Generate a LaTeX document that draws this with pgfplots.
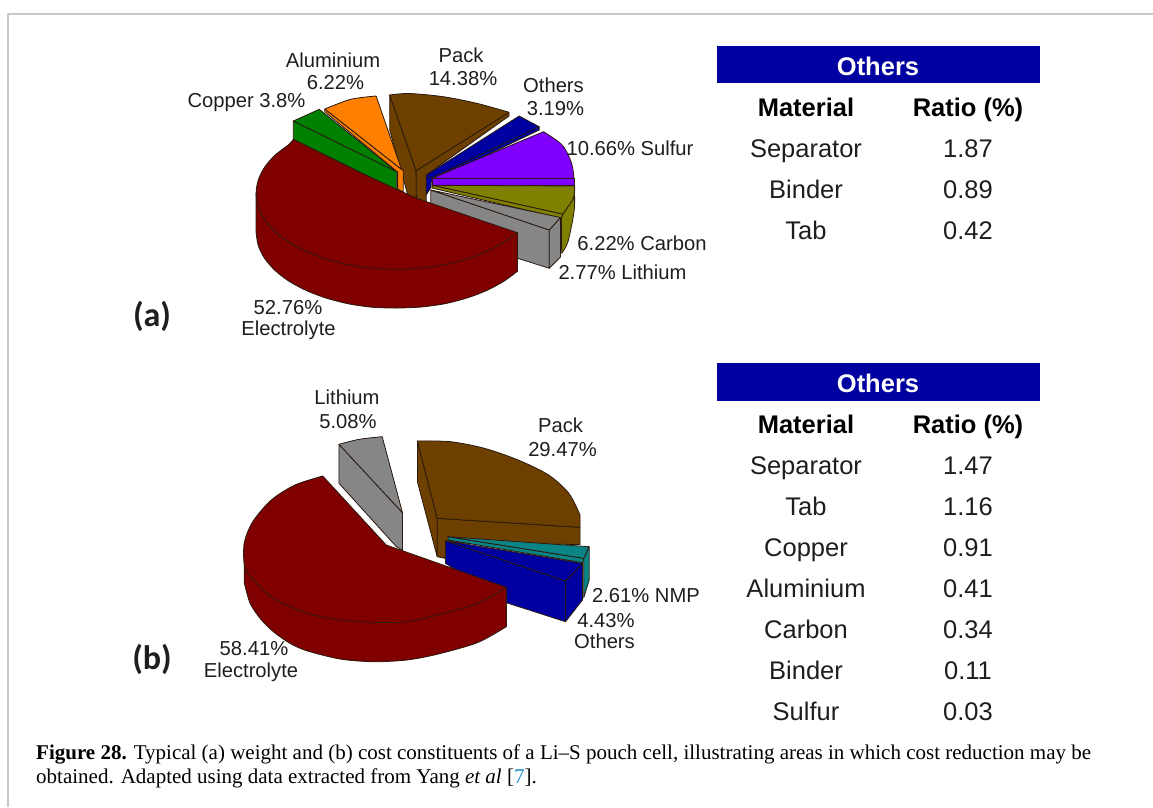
\documentclass[border=0pt]{standalone}
\usepackage{fontspec}
\setmainfont{Liberation Sans}
\newfontfamily\capfont{Liberation Serif}
\newfontfamily\tagfont{Carlito}
\usepackage{pgfplots}
\pgfplotsset{compat=1.18}

\definecolor{elec}{HTML}{800000}
\definecolor{cu}{HTML}{008000}
\definecolor{alu}{HTML}{FF8000}
\definecolor{pack}{HTML}{6E4000}
\definecolor{oth}{HTML}{0000A0}
\definecolor{sul}{HTML}{8000FF}
\definecolor{carb}{HTML}{808000}
\definecolor{lith}{HTML}{868686}
\definecolor{nmp}{HTML}{0A8585}
\definecolor{ink}{HTML}{1E1E1E}
\definecolor{edge}{HTML}{2A1A10}
\definecolor{frame}{HTML}{C8C8C8}

% straight sided piece
\newcommand{\poly}[2]{\addplot[fill=#1, draw=edge, line width=0.8pt, line join=round] coordinates {#2} -- cycle;}
% piece with a curved rim: colour, rim points, straight points back to the start
\newcommand{\rim}[3]{%
  \addplot[fill=#1, draw=none] coordinates {#2 #3} -- cycle;
  \addplot[smooth, fill=#1, draw=edge, line width=0.8pt] coordinates {#2};
  \addplot[draw=edge, line width=0.8pt, line join=round] coordinates {#3};
}
% same with the rim in two parts, for a top face whose straight side bends inwards
\newcommand{\rimtwo}[4]{%
  \addplot[fill=#1, draw=none] coordinates {#2 #3 #4} -- cycle;
  \addplot[smooth, fill=#1, draw=edge, line width=0.8pt] coordinates {#2};
  \addplot[smooth, fill=#1, draw=edge, line width=0.8pt] coordinates {#3};
  \addplot[draw=edge, line width=0.8pt, line join=round] coordinates {#4};
}

\tikzset{
  pielab/.style={font=\fontsize{20.2}{24}\selectfont, text=ink, inner sep=0pt, anchor=base},
  tabtxt/.style={font=\fontsize{25.5}{30}\selectfont, text=ink, inner sep=0pt, anchor=base},
  tabhead/.style={font=\fontsize{25.5}{30}\selectfont\bfseries, text=black, inner sep=0pt, anchor=base},
  parttag/.style={font=\tagfont\fontsize{34}{38}\selectfont\bfseries, text=ink, inner sep=0pt, anchor=center},
  captxt/.style={font=\capfont\fontsize{21}{25}\selectfont, text=black, inner sep=0pt, anchor=base west}
}
\pgfplotsset{sheet/.style={
    at={(0,0)}, anchor=south west,
    scale only axis, width=1153pt, height=807pt,
    ymin=0, ymax=807, y dir=reverse, hide axis, clip=true}}

\begin{document}
\begin{tikzpicture}
\path[use as bounding box] (0,0) rectangle (1153pt,807pt);

% the two pies
\begin{axis}[sheet, xmin=2.57, xmax=1139.1]
% ---- (a) weight ----
\poly{pack}{(386.7,95) (386.7,130) (404.5,195) (413,198) (412.7,170.7)}
\poly{pack}{(412.7,170.7) (504.3,112.3) (504.3,116) (422.7,175) (422.7,202) (413,198)}
\rim{pack}{(386.7,95) (406,93.5) (439.5,96.7) (472.5,103.3) (504.3,112.3)}{(504.3,112.3) (412.7,170.7) (386.7,95)}
\poly{oth}{(534,126.7) (534,130) (427.6,181.7) (427.6,187) (422.7,195) (422.7,175)}
\poly{oth}{(514.3,116) (534,126.7) (427.6,178.3) (422.7,175)}
\poly{sul}{(428.3,178.3) (568.3,178.3) (568.3,185) (428.3,185)}
\rim{sul}{(538.3,131.7) (556.7,145) (566,163.3) (568.3,178.3)}{(568.3,178.3) (428.3,178.3) (538.3,131.7)}
\rim{carb}{(568.6,186) (568.6,210) (562.4,241.7) (556.2,253.3)}{(556.2,253.3) (556,218) (557.3,214) (567.7,198.3) (568.6,186)}
\poly{carb}{(429.3,185.3) (557.3,214) (556,218.3) (428.3,188)}
\rim{carb}{(569,186) (567.7,198.3) (557.3,214)}{(557.3,214) (429.3,185.3) (569,186)}
\poly{lith}{(427.2,190) (544,230) (544,268.3) (512,258) (427.2,230)}
\poly{lith}{(544,230) (555,217.5) (555,257) (544,268.3)}
\poly{lith}{(427.2,190) (555,217.5) (544,230)}
\poly{cu}{(291.7,121) (393.6,171.7) (393.6,190) (291.7,139.3)}
\poly{cu}{(291.7,121) (317.3,109.3) (393.6,171.7)}
\poly{alu}{(322.7,109) (398.3,169.3) (400,170.7) (400,192) (394.5,189) (394.5,172) (322.7,111.7)}
\rim{alu}{(322.7,109) (348.3,99.3) (373.3,96)}{(373.3,96) (398.3,169.3) (322.7,109)}
% electrolyte side then top
\rim{elec}{(255,232.3) (257.1,245.5) (263.3,258.3) (273.5,270.3) (287.4,281.2) (304.4,290.5) (324.2,298.1) (346,303.8) (369.3,307.2) (393.3,308) (417.4,307) (440.6,303.8) (462.5,298.1) (482.3,290.5) (499.3,281.2) (512.7,271.2)}{(512.7,271.2) (512.7,232.7) (255,193.3) (255,232.3)}
\rimtwo{elec}{(291.7,139.3) (287.4,144.4) (273.5,155.3) (263.3,167.3) (257.1,180.1) (255,193.3) (257.1,206.5) (263.3,219.3) (273.5,231.3) (287.4,242.2) (304.4,251.5) (324.2,259.1)}{(324.2,259.1) (346,264.8) (369.3,268.2) (393.3,269.3) (417.4,268.2) (440.6,264.8) (462.5,259.1) (482.3,251.5) (499.3,242.2) (512.7,232.7)}{(512.7,232.7) (475.7,220) (413.3,198.3) (393.6,189.3) (357.4,172.5) (291.7,139.3)}

% ---- (b) cost ----
\poly{pack}{(414,441) (414,481.7) (433.5,556.7) (433.5,518.3)}
\poly{pack}{(433.5,518.3) (574.3,527.3) (574.3,544.5) (445,543) (441,558.3) (433.5,556.7)}
\rim{pack}{(414,441) (446.7,441.7) (480,448.3) (513.3,460) (543.3,475) (563.3,493.3) (574.3,515)}{(574.3,515) (574.3,527.3) (433.5,518.3) (414,441)}
\poly{lith}{(336.7,444.3) (336.7,483.3) (393.3,546.7) (399.3,550) (399.3,512.7)}
\rim{lith}{(336.7,444.3) (356.7,439.3) (379.3,436.7)}{(379.3,436.7) (399.3,512.7) (336.7,444.3)}
\poly{nmp}{(583.3,546.7) (583.3,580) (577.9,598) (577.9,558.3)}
\poly{nmp}{(444.3,536.7) (577.9,558.3) (577,562.7) (444.3,540)}
\poly{nmp}{(444.3,536.7) (583.3,546.7) (577.9,558.3)}
\poly{oth}{(441.7,540.7) (560,581) (560,621.7) (501.7,602.7) (441.7,563.3)}
\poly{oth}{(560,581) (576.7,563.3) (576.7,600) (560,621.7)}
\poly{oth}{(441.7,540.7) (576.7,563.3) (560,581)}
\rim{elec}{(243.3,582.6) (249,603) (258.9,618.3) (272,631.7) (288.4,643.3) (304.9,650.7) (337.7,659) (370.5,661.7) (403.5,660) (433.3,654.3) (473.3,642.6) (501.7,626.6)}{(501.7,626.6) (501.7,587.3) (243.3,543.3) (243.3,582.6)}
\rimtwo{elec}{(320.7,476) (293.3,485) (270,500) (251.7,521.7) (243.3,543.3) (244.1,568) (255.6,583.3) (272,598.3) (304.9,613.3) (337.7,620)}{(337.7,620) (370.5,622.3) (403.5,621.7) (433.3,615) (473.3,603.3) (501.7,587.3)}{(501.7,587.3) (383.3,545) (320.7,476)}
\end{axis}

% frame, tables and all text
\begin{axis}[sheet, xmin=0, xmax=1153]
\addplot[draw=frame, line width=1.5pt] coordinates {(8,807) (8,14) (1153,14)};

% table headers
\addplot[fill=oth, draw=none] coordinates {(717,46) (1040,46) (1040,83) (717,83)} -- cycle;
\addplot[fill=oth, draw=none] coordinates {(717,363) (1040,363) (1040,401) (717,401)} -- cycle;

% labels (a)
\node[pielab] at (axis cs:333,67) {Aluminium};
\node[pielab] at (axis cs:335.5,89) {6.22\%};
\node[pielab] at (axis cs:461,62) {Pack};
\node[pielab] at (axis cs:463,85) {14.38\%};
\node[pielab] at (axis cs:553.5,92) {Others};
\node[pielab] at (axis cs:555.5,115) {3.19\%};
\node[pielab] at (axis cs:246.5,107) {Copper 3.8\%};
\node[pielab] at (axis cs:630,155) {10.66\% Sulfur};
\node[pielab] at (axis cs:642,250) {6.22\% Carbon};
\node[pielab] at (axis cs:622.5,279) {2.77\% Lithium};
\node[pielab] at (axis cs:288,314) {52.76\%};
\node[pielab] at (axis cs:288.5,335) {Electrolyte};
\node[parttag] at (axis cs:152,316) {(a)};

% labels (b)
\node[pielab] at (axis cs:347,404) {Lithium};
\node[pielab] at (axis cs:348,428) {5.08\%};
\node[pielab] at (axis cs:560.5,432) {Pack};
\node[pielab] at (axis cs:562.5,456) {29.47\%};
\node[pielab] at (axis cs:646,602) {2.61\% NMP};
\node[pielab] at (axis cs:606,627) {4.43\%};
\node[pielab] at (axis cs:604.5,648) {Others};
\node[pielab] at (axis cs:254,655) {58.41\%};
\node[pielab] at (axis cs:251,677) {Electrolyte};
\node[parttag] at (axis cs:152,659) {(b)};

% table (a)
\node[tabhead, text=white] at (axis cs:878,75) {Others};
\node[tabhead] at (axis cs:806,116) {Material};
\node[tabhead] at (axis cs:968,116) {Ratio (\%)};
\node[tabtxt] at (axis cs:806,157) {Separator};
\node[tabtxt] at (axis cs:968,157) {1.87};
\node[tabtxt] at (axis cs:806,198) {Binder};
\node[tabtxt] at (axis cs:968,198) {0.89};
\node[tabtxt] at (axis cs:806,239) {Tab};
\node[tabtxt] at (axis cs:968,239) {0.42};

% table (b)
\node[tabhead, text=white] at (axis cs:878,392) {Others};
\node[tabhead] at (axis cs:806,433) {Material};
\node[tabhead] at (axis cs:968,433) {Ratio (\%)};
\node[tabtxt] at (axis cs:806,474) {Separator};
\node[tabtxt] at (axis cs:968,474) {1.47};
\node[tabtxt] at (axis cs:806,515) {Tab};
\node[tabtxt] at (axis cs:968,515) {1.16};
\node[tabtxt] at (axis cs:806,556) {Copper};
\node[tabtxt] at (axis cs:968,556) {0.91};
\node[tabtxt] at (axis cs:806,597) {Aluminium};
\node[tabtxt] at (axis cs:968,597) {0.41};
\node[tabtxt] at (axis cs:806,638) {Carbon};
\node[tabtxt] at (axis cs:968,638) {0.34};
\node[tabtxt] at (axis cs:806,679) {Binder};
\node[tabtxt] at (axis cs:968,679) {0.11};
\node[tabtxt] at (axis cs:806,720) {Sulfur};
\node[tabtxt] at (axis cs:968,720) {0.03};

% caption
\node[captxt] at (axis cs:36,759) {\textbf{Figure 28.} Typical (a) weight and (b) cost constituents of a Li–S pouch cell, illustrating areas in which cost reduction may be};
\node[captxt] at (axis cs:36,783) {obtained. Adapted using data extracted from Yang \textit{et al} [\textcolor[HTML]{1F8CC8}{7}].};
\end{axis}
\end{tikzpicture}
\end{document}
